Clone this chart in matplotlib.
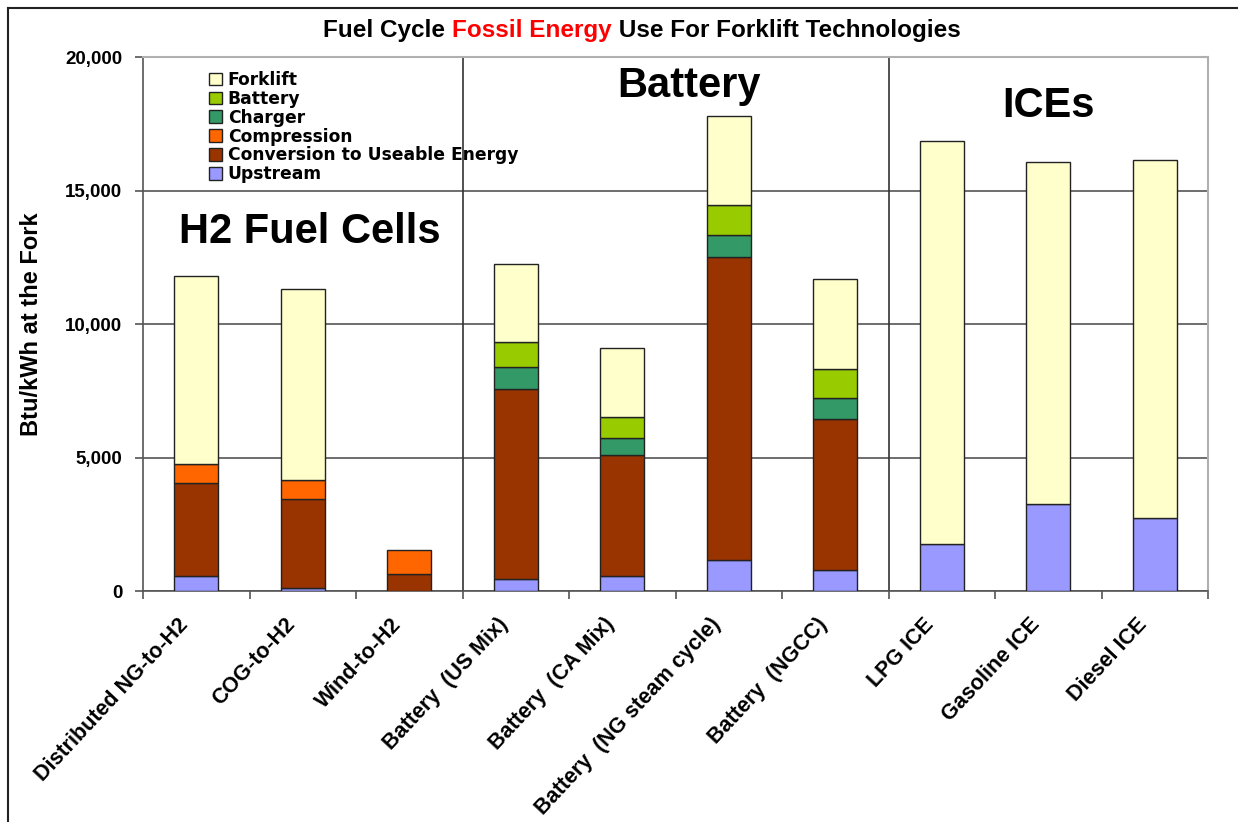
"""
Fuel cycle fossil energy use for forklift technologies.
Stacked bar chart rebuilt with matplotlib, saved as out.png.
"""

import matplotlib

matplotlib.use("Agg")
import matplotlib.pyplot as plt
from matplotlib.lines import Line2D
from matplotlib.ticker import FuncFormatter
from matplotlib.transforms import ScaledTranslation

categories = [
    "Distributed NG-to-H2",
    "COG-to-H2",
    "Wind-to-H2",
    "Battery  (US Mix)",
    "Battery  (CA Mix)",
    "Battery  (NG steam cycle)",
    "Battery  (NGCC)",
    "LPG ICE",
    "Gasoline ICE",
    "Diesel ICE",
]

# Btu/kWh at the fork, bottom to top of each stack
upstream = [550, 100, 0, 440, 550, 1170, 770, 1760, 3250, 2730]
conversion = [3480, 3360, 650, 7140, 4540, 11330, 5660, 0, 0, 0]
compression = [720, 710, 900, 0, 0, 0, 0, 0, 0, 0]
charger = [0, 0, 0, 810, 630, 840, 810, 0, 0, 0]
battery = [0, 0, 0, 940, 800, 1120, 1060, 0, 0, 0]
forklift = [7050, 7140, 0, 2930, 2590, 3330, 3380, 15100, 12800, 13400]

series = [
    ("Upstream", upstream, "#9999FF"),
    ("Conversion to Useable Energy", conversion, "#993300"),
    ("Compression", compression, "#FF6600"),
    ("Charger", charger, "#339966"),
    ("Battery", battery, "#99CC00"),
    ("Forklift", forklift, "#FFFFCC"),
]

group_labels = ["H2 Fuel Cells", "Battery", "ICEs"]
group_breaks = [2.5, 6.5]

FONT = "Liberation Sans"

fig = plt.figure(figsize=(12.38, 8.22), dpi=100)
ax = fig.add_axes([143 / 1238, 1 - 591 / 822, 1065 / 1238, 534 / 822])

x = list(range(len(categories)))
bottom = [0] * len(categories)
handles = {}
for name, values, color in series:
    # skip empty segments so no stray outline is drawn
    xs = [xi for xi, v in zip(x, values) if v > 0]
    hs = [v for v in values if v > 0]
    bs = [b for b, v in zip(bottom, values) if v > 0]
    bars = ax.bar(xs, hs, bottom=bs, width=0.41, color=color,
                  edgecolor="#222222", linewidth=1.0, zorder=3)
    handles[name] = bars
    bottom = [b + v for b, v in zip(bottom, values)]

ax.set_xlim(-0.5, len(categories) - 0.5)
ax.set_ylim(0, 20000)
ax.set_yticks([0, 5000, 10000, 15000, 20000])
ax.yaxis.set_major_formatter(FuncFormatter(lambda v, p: f"{int(v):,}"))
ax.yaxis.grid(True, color="#555555", linewidth=1.2, zorder=0)
ax.set_axisbelow(True)

for xb in group_breaks:
    ax.axvline(xb, color="#333333", linewidth=1.2, zorder=2)

ax.set_xticks(x)
ax.set_xticks([i - 0.5 for i in range(len(categories) + 1)], minor=True)
ax.tick_params(axis="x", which="major", length=0, pad=0)
ax.tick_params(axis="x", which="minor", length=6, width=1.2,
               color="#555555", direction="out")
ax.tick_params(axis="y", length=6, width=1.2, color="#555555",
               direction="out", pad=9)
ax.set_xticklabels(categories, rotation=47, ha="right", va="top",
                   rotation_mode="anchor", fontsize=15.5,
                   fontweight="bold", family=FONT)
shift = ScaledTranslation(-19 / 100, -23 / 100, fig.dpi_scale_trans)
for lab in ax.get_xticklabels():
    lab.set_transform(lab.get_transform() + shift)
for lab in ax.get_yticklabels():
    lab.set_fontsize(13.5)
    lab.set_fontweight("bold")
    lab.set_family(FONT)

for side in ["left", "bottom"]:
    ax.spines[side].set_color("#555555")
    ax.spines[side].set_linewidth(1.2)
for side in ["top", "right"]:
    ax.spines[side].set_color("#b0b0b0")
    ax.spines[side].set_linewidth(1.5)

ax.set_ylabel("Btu/kWh at the Fork", fontsize=17, fontweight="bold",
              family=FONT, labelpad=16)

# group captions
ax.text(1.07, 13450, group_labels[0], fontsize=30, family=FONT,
        fontweight="bold", ha="center", va="center")
ax.text(4.63, 18900, group_labels[1], fontsize=30, family=FONT,
        fontweight="bold", ha="center", va="center")
ax.text(8.0, 18150, group_labels[2], fontsize=30, family=FONT,
        fontweight="bold", ha="center", va="center")

# legend, top entry first
legend_order = ["Forklift", "Battery", "Charger", "Compression",
                "Conversion to Useable Energy", "Upstream"]
leg = fig.legend([handles[n] for n in legend_order], legend_order,
                 loc="upper left", bbox_to_anchor=(197 / 1238, 1 - 59 / 822),
                 frameon=False, fontsize=12.3, handlelength=0.75,
                 handleheight=0.75, handletextpad=0.35, labelspacing=0.05,
                 borderpad=0.2)
for t in leg.get_texts():
    t.set_fontweight("bold")
    t.set_family("DejaVu Sans")

# title in three colour runs
renderer = fig.canvas.get_renderer()
parts = [("Fuel Cycle ", "black"), ("Fossil Energy", "#FF0000"),
         (" Use For Forklift Technologies", "black")]
tkw = dict(fontsize=17.5, fontweight="bold", family=FONT, va="center")
probe = fig.text(0, 0, "".join(p for p, _ in parts), **tkw)
total_w = probe.get_window_extent(renderer).width
probe.remove()
xpix = 642 - total_w / 2
for txt, col in parts:
    t = fig.text(xpix / 1238, 1 - 30 / 822, txt, color=col, **tkw)
    xpix += t.get_window_extent(renderer).width

# outer frame: top and left edges only
fig.add_artist(Line2D([8 / 1238, 1], [1 - 8 / 822, 1 - 8 / 822],
                      transform=fig.transFigure, color="#222222", lw=1.5))
fig.add_artist(Line2D([8 / 1238, 8 / 1238], [0, 1 - 8 / 822],
                      transform=fig.transFigure, color="#222222", lw=1.5))

fig.savefig("out.png", dpi=100)
